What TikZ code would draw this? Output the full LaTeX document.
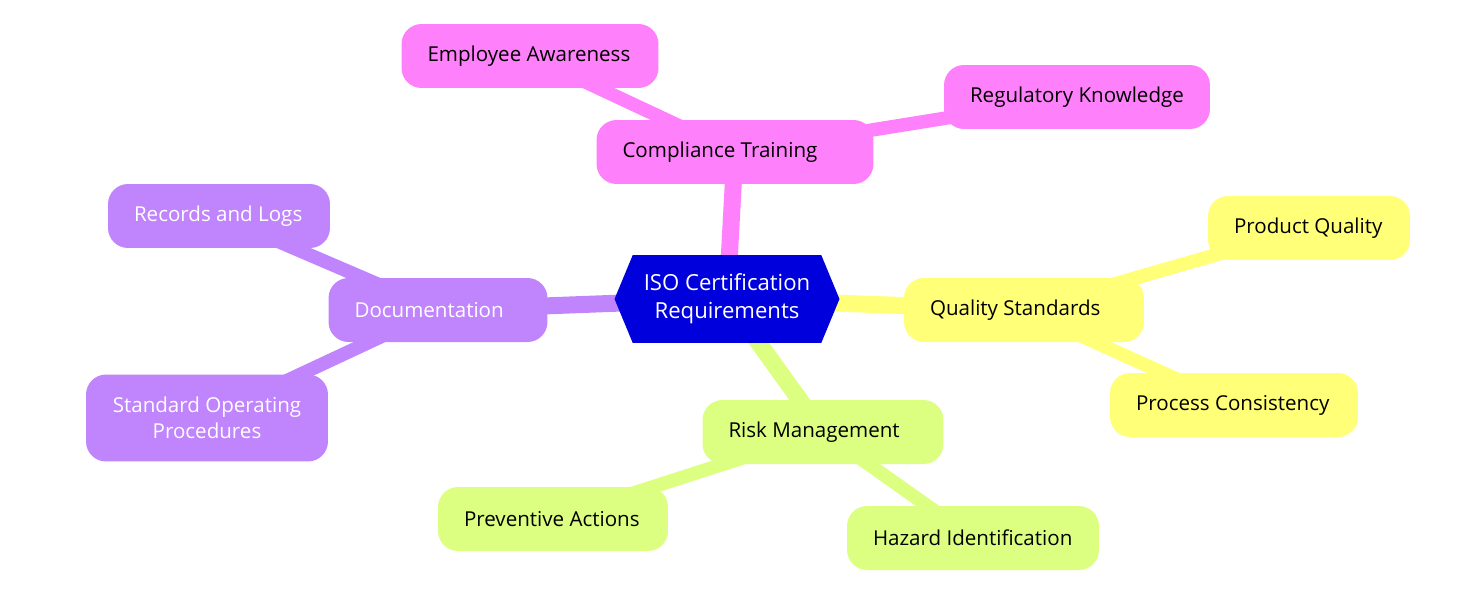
\documentclass[tikz,border=0pt]{standalone}
\usepackage{fontspec}
\setmainfont{Open Sans}
\usetikzlibrary{shapes.symbols,backgrounds}

\definecolor{rootblue}{HTML}{0000DD}
\definecolor{trainpink}{HTML}{FF80FB}
\definecolor{docpurple}{HTML}{C084FC}
\definecolor{qualyellow}{HTML}{FFFF78}
\definecolor{riskgreen}{HTML}{DCFF82}

% left-set label in a box of fixed width
\newcommand{\leaftext}[2]{\makebox[#1][l]{#2}}

\tikzset{
  leaf/.style={rounded corners=0.4cm, minimum height=1.28cm, align=center,
    inner xsep=0.52cm, font=\fontsize{11.7}{15}\selectfont},
  rootnode/.style={signal, signal to=east and west, signal pointer angle=135,
    fill=rootblue, text=white, minimum width=4.5cm, minimum height=1.76cm,
    align=center, font=\fontsize{12.6}{16}\selectfont},
  trunk/.style={line width=0.34cm},
  twig/.style={line width=0.27cm}
}

\begin{document}
\begin{tikzpicture}[x=0.02cm, y=-0.02cm]
        \useasboundingbox (0,0) rectangle (1468,609);

        % Root
        \node[rootnode] (root) at (727,299) {ISO Certification\\Requirements};

        % Compliance Training branch
        \node[leaf, fill=trainpink] (training) at (735,152) {\leaftext{4.5cm}{Compliance Training}};
        \node[leaf, fill=trainpink] (awareness) at (530,56) {\leaftext{4.1cm}{Employee Awareness}};
        \node[leaf, fill=trainpink] (regulatory) at (1077,97) {\leaftext{4.28cm}{Regulatory Knowledge}};

        % Documentation branch
        \node[leaf, fill=docpurple, text=white] (docs) at (438,310) {\leaftext{3.34cm}{Documentation}};
        \node[leaf, fill=docpurple, text=white] (records) at (219,216) {\leaftext{3.4cm}{Records and Logs}};
        \node[leaf, fill=docpurple, text=white, minimum width=4.84cm, minimum height=1.74cm] (sop) at (207,418) {Standard Operating\\Procedures};

        % Quality Standards branch
        \node[leaf, fill=qualyellow] (quality) at (1024,310) {\leaftext{3.76cm}{Quality Standards}};
        \node[leaf, fill=qualyellow] (product) at (1309,228) {\leaftext{3.0cm}{Product Quality}};
        \node[leaf, fill=qualyellow] (consistency) at (1234,405) {\leaftext{3.92cm}{Process Consistency}};

        % Risk Management branch
        \node[leaf, fill=riskgreen] (risk) at (823,432) {\leaftext{3.78cm}{Risk Management}};
        \node[leaf, fill=riskgreen] (preventive) at (553,519) {\leaftext{3.56cm}{Preventive Actions}};
        \node[leaf, fill=riskgreen] (hazard) at (973,538) {\leaftext{4.0cm}{Hazard Identification}};

        % Links
        \begin{scope}[on background layer]
          \draw[trunk, trainpink] (root.center) -- (training.center);
          \draw[twig, trainpink] (training.center) -- (awareness.center);
          \draw[twig, trainpink] (training.center) -- (regulatory.center);
          \draw[trunk, docpurple] (root.center) -- (docs.center);
          \draw[twig, docpurple] (docs.center) -- (records.center);
          \draw[twig, docpurple] (docs.center) -- (sop.center);
          \draw[trunk, qualyellow] (root.center) -- (quality.center);
          \draw[twig, qualyellow] (quality.center) -- (product.center);
          \draw[twig, qualyellow] (quality.center) -- (consistency.center);
          \draw[trunk, riskgreen] (root.center) -- (risk.center);
          \draw[twig, riskgreen] (risk.center) -- (preventive.center);
          \draw[twig, riskgreen] (risk.center) -- (hazard.center);
        \end{scope}
      \end{tikzpicture}
\end{document}
